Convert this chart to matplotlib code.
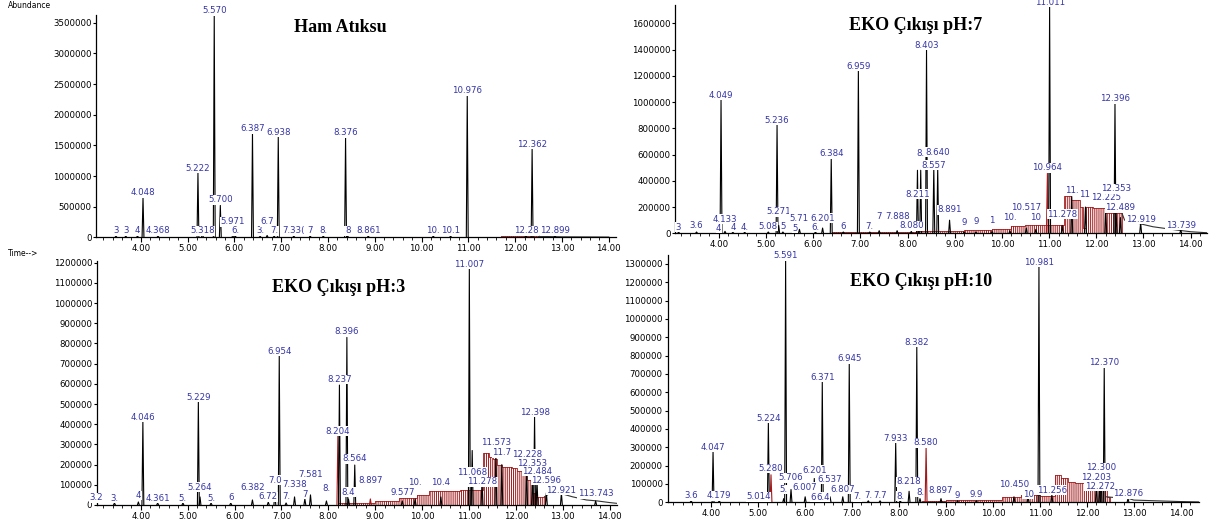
import matplotlib
matplotlib.use("Agg")
import matplotlib.pyplot as plt
from matplotlib.ticker import MultipleLocator, FixedLocator, FuncFormatter

RED = "#A3191B"
BLUE = "#3434A8"

# ---------------- Panel 1: Ham Atıksu ----------------
ham_rt = [3.47, 3.68, 3.93, 4.048, 4.368, 5.222, 5.318, 5.570, 5.700, 5.971, 6.02, 6.387,
          6.55, 6.70, 6.85, 6.938, 7.27, 7.62, 7.90, 8.376, 8.42, 8.861, 10.25, 10.62,
          10.976, 12.23, 12.362, 12.85]
ham_h = [20000, 20000, 20000, 650000, 20000, 1050000, 60000, 3620000, 520000, 60000, 20000, 1700000,
         15000, 30000, 20000, 1640000, 20000, 20000, 20000, 1630000, 20000, 20000, 20000, 20000,
         2320000, 40000, 1440000, 20000]
ham_lab = ["3", "3", "4", "4.048", "4.368", "5.222", "5.318", "5.570", "5.700", "5.971", "6.", "6.387",
           "3.", "6.7", "7.", "6.938", "7.33(", "7", "8.", "8.376", "8", "8.861", "10.", "10.1",
           "10.976", "12.28", "12.362", "12.899"]
ham_laby = [30000, 30000, 30000, 650000, 30000, 1050000, 35000, 3620000, 540000, 180000, 30000, 1700000,
            30000, 180000, 30000, 1640000, 30000, 30000, 30000, 1630000, 30000, 30000, 30000, 30000,
            2320000, 35000, 1440000, 30000]
ham_red = []
ham_hump_rt = [5.2, 9.0, 11.5, 11.7, 12.0, 12.5]
ham_hump_h = [6000, 8000, 10000, 20000, 25000, 0]
ham_tail_rt = [12.5, 13.0, 14.0]
ham_tail_h = [15000, 8000, 4000]
ham_yticks = [0, 500000, 1000000, 1500000, 2000000, 2500000, 3000000, 3500000]

# ---------------- Panel 2: EKO Çıkışı pH:7 ----------------
p7_rt = [3.15, 3.53, 4.00, 4.049, 4.133, 4.30, 4.55, 5.05, 5.236, 5.271, 5.36, 5.62, 5.71,
         6.05, 6.201, 6.384, 6.64, 6.959, 7.20, 7.40, 7.78, 8.08, 8.211, 8.28, 8.403, 8.557,
         8.640, 8.891, 9.20, 9.45, 9.79, 10.17, 10.517, 10.72, 10.964, 11.011, 11.278, 11.48,
         11.77, 12.20, 12.42, 12.396, 12.51, 12.94, 13.79]
p7_h = [10000, 10000, 10000, 1015000, 15000, 8000, 8000, 10000, 825000, 60000, 10000, 10000, 30000,
        10000, 40000, 571000, 10000, 1240000, 10000, 20000, 20000, 15000, 480000, 480000, 1396000, 495000,
        495000, 100000, 10000, 10000, 15000, 20000, 40000, 30000, 457000, 1726000, 60000, 280000,
        200000, 190000, 150000, 990000, 120000, 80000, 25000]
p7_lab = ["3", "3.6", "4", "4.049", "4.133", "4", "4.", "5.08", "5.236", "5.271", "5", "5", "5.71",
          "6.", "6.201", "6.384", "6", "6.959", "7.", "7", "7.888", "8.080", "8.211", "8.", "8.403", "8.557",
          "8.640", "8.891", "9", "9", "1", "10.", "10.517", "10", "10.964", "11.011", "11.278", "11.",
          "11.", "12.225", "12.353", "12.396", "12.489", "12.919", "13.739"]
p7_laby = [12000, 28000, 5000, 1015000, 72000, 10000, 10000, 18000, 825000, 130000, 18000, 5000, 80000,
           12000, 82000, 571000, 20000, 1240000, 18000, 97000, 95000, 22000, 262000, 575000, 1396000, 485000,
           585000, 145000, 45000, 55000, 60000, 84000, 160000, 84000, 465000, 1726000, 110000, 290000,
           265000, 235000, 305000, 990000, 160000, 72000, 28000]
p7_red = [10.964]
p7_hump_rt = [6.40, 8.20, 9.20, 9.80, 10.20, 10.50, 11.00, 11.32, 11.47, 11.65, 11.72, 11.79, 11.93, 12.18, 12.54]
p7_hump_h = [8000, 15000, 22000, 35000, 55000, 65000, 60000, 284000, 254000, 200000, 40000, 203000, 190000, 157000, 0]
p7_tail_rt = [12.54, 12.60, 12.90, 13.20, 13.70, 14.00, 14.35]
p7_tail_h = [157000, 100000, 75000, 50000, 25000, 12000, 4000]
p7_yticks = [0, 200000, 400000, 600000, 800000, 1000000, 1200000, 1400000, 1600000]

# ---------------- Panel 3: EKO Çıkışı pH:3 ----------------
p3_rt = [3.06, 3.44, 3.95, 4.046, 4.361, 4.90, 5.229, 5.264, 5.50, 5.92, 6.382, 6.72, 6.86, 6.954,
         7.10, 7.28, 7.50, 7.62, 7.96, 8.204, 8.237, 8.396, 8.43, 8.564, 8.897, 9.577, 9.85, 10.40,
         11.007, 11.068, 11.278, 11.573, 11.70, 12.228, 12.353, 12.398, 12.45, 12.65, 12.97, 13.70]
p3_h = [10000, 10000, 15000, 412000, 10000, 10000, 511000, 40000, 10000, 10000, 25000, 15000, 60000, 738000,
        10000, 40000, 30000, 50000, 20000, 341000, 594000, 830000, 30000, 198000, 30000, 20000, 30000, 40000,
        1170000, 270000, 120000, 260000, 200000, 190000, 150000, 437000, 120000, 60000, 60000, 20000]
p3_lab = ["3.2", "3.", "4", "4.046", "4.361", "5.", "5.229", "5.264", "5.", "6", "6.382", "6.72", "7.0", "6.954",
          "7.", "7.338", "7", "7.581", "8.", "8.204", "8.237", "8.396", "8.4", "8.564", "8.897", "9.577", "10.", "10.4",
          "11.007", "11.068", "11.278", "11.573", "11.7", "12.228", "12.353", "12.398", "12.484", "12.596", "12.921",
          "113.743"]
p3_laby = [13000, 10000, 25000, 412000, 12000, 10000, 511000, 66000, 12000, 13000, 66000, 18000, 100000, 738000,
           18000, 80000, 30000, 127000, 58000, 343000, 599000, 838000, 40000, 206000, 100000, 41000, 87000, 87000,
           1170000, 140000, 92000, 288000, 236000, 230000, 185000, 437000, 145000, 100000, 52000, 33000]
p3_red = [8.204, 8.897]
p3_hump_rt = [8.20, 9.00, 9.50, 9.90, 10.15, 10.80, 11.29, 11.43, 11.51, 11.60, 11.70, 11.91, 12.03, 12.13,
              12.24, 12.34, 12.41, 12.61]
p3_hump_h = [10000, 20000, 33000, 50000, 71000, 74000, 256000, 236000, 226000, 198000, 187000, 182000, 170000,
             149000, 124000, 58000, 41000, 0]
p3_tail_rt = [12.61, 12.75, 12.90, 13.20, 13.50, 13.74, 14.00, 14.16]
p3_tail_h = [41000, 61000, 61000, 41000, 25000, 20000, 12000, 8000]
p3_yticks = [0, 100000, 200000, 300000, 400000, 500000, 600000, 700000, 800000, 900000, 1000000, 1100000, 1200000]

# ---------------- Panel 4: EKO Çıkışı pH:10 ----------------
p10_rt = [3.58, 4.047, 4.179, 5.014, 5.224, 5.280, 5.55, 5.591, 5.706, 6.007, 6.17, 6.201, 6.371, 6.39,
          6.537, 6.807, 7.12, 6.945, 7.35, 7.60, 7.933, 8.03, 8.218, 8.382, 8.45, 8.580, 8.897, 9.25,
          9.65, 10.45, 10.75, 10.981, 11.256, 12.203, 12.272, 12.300, 12.370, 12.876]
p10_h = [8000, 276000, 8000, 8000, 434000, 150000, 20000, 1320000, 70000, 30000, 8000, 130000, 658000, 8000,
         30000, 30000, 8000, 758000, 8000, 8000, 325000, 8000, 60000, 849000, 20000, 300000, 20000, 8000,
         8000, 30000, 30000, 1285000, 40000, 100000, 80000, 180000, 736000, 20000]
p10_lab = ["3.6", "4.047", "4.179", "5.014", "5.224", "5.280", "5.", "5.591", "5.706", "6.007", "6", "6.201",
           "6.371", "6.4", "6.537", "6.807", "7.", "6.945", "7.", "7.7", "7.933", "8.", "8.218", "8.382", "8.",
           "8.580", "8.897", "9", "9.9", "10.450", "10", "10.981", "11.256", "12.203", "12.272", "12.300",
           "12.370", "12.876"]
p10_laby = [10000, 276000, 10000, 5000, 434000, 160000, 45000, 1320000, 108000, 57000, 3000, 150000, 658000,
            3000, 100000, 45000, 5000, 758000, 15000, 15000, 325000, 8000, 87000, 849000, 30000, 300000, 42000,
            15000, 18000, 70000, 20000, 1285000, 42000, 113000, 62000, 165000, 736000, 23000]
p10_red = [5.280, 8.580]
p10_hump_rt = [8.50, 9.00, 9.60, 10.20, 10.60, 11.00, 11.32, 11.45, 11.60, 11.75, 12.00, 12.25, 12.42, 12.50]
p10_hump_h = [5000, 10000, 15000, 30000, 40000, 35000, 150000, 130000, 110000, 105000, 95000, 85000, 30000, 0]
p10_tail_rt = [12.42, 12.50, 12.90, 13.00, 13.50, 14.00, 14.38]
p10_tail_h = [30000, 28000, 20000, 12000, 8000, 4000, 2000]
p10_yticks = [0, 100000, 200000, 300000, 400000, 500000, 600000, 700000, 800000, 900000, 1000000,
              1100000, 1200000, 1300000]

xticks = [4, 5, 6, 7, 8, 9, 10, 11, 12, 13, 14]

# ---------------- figure ----------------
W, H = 1217, 523
plt.rcParams["font.family"] = ["DejaVu Sans"]
plt.rcParams["hatch.linewidth"] = 0.7
plt.rcParams["hatch.color"] = RED
fig = plt.figure(figsize=(W / 100, H / 100), dpi=100)


def panel(left, right, y0, ytop, xlim, ylim, yticks, rt, h, lab, laby, red,
          hump_rt, hump_h, tail_rt, tail_h):
    ax = fig.add_axes([left / W, 1 - y0 / H, (right - left) / W, (y0 - ytop) / H])
    ax.set_xlim(*xlim)
    ax.set_ylim(*ylim)
    ax.fill_between(hump_rt, 0, hump_h, step="post", facecolor="none", edgecolor=RED,
                    hatch="||||||||", linewidth=0, zorder=1)
    ax.step(hump_rt, hump_h, where="post", color=RED, lw=0.6, zorder=1.5)
    ax.plot(tail_rt, tail_h, color="#333333", lw=0.8, zorder=2)
    w = 0.02
    for r, hh, t, ly in zip(rt, h, lab, laby):
        c = RED if r in red else "black"
        ax.plot([r - w, r, r + w], [0, hh, 0], color=c, lw=0.8, zorder=3)
        ax.text(r, ly, t, ha="center", va="bottom", fontsize=6.2, color=BLUE, zorder=5,
                bbox=dict(boxstyle="square,pad=0.05", fc="white", ec="none"))
    for s in ("top", "right"):
        ax.spines[s].set_visible(False)
    for s in ("left", "bottom"):
        ax.spines[s].set_linewidth(0.9)
    ax.xaxis.set_major_locator(FixedLocator(xticks))
    ax.xaxis.set_major_formatter(FuncFormatter(lambda v, p: f"{v:.2f}"))
    ax.xaxis.set_minor_locator(MultipleLocator(0.2))
    ax.yaxis.set_major_locator(FixedLocator(yticks))
    ax.yaxis.set_major_formatter(FuncFormatter(lambda v, p: f"{int(v)}"))
    ax.tick_params(axis="x", which="major", direction="out", length=3.5, width=0.8, labelsize=6.2, pad=1.5)
    ax.tick_params(axis="x", which="minor", direction="out", length=2, width=0.6)
    ax.tick_params(axis="y", which="major", direction="out", length=2, width=0.8, labelsize=6.2, pad=1.5)
    ax.set_facecolor("none")
    return ax


panel(96.3, 615.8, 237.3, 15.4, (3.05, 14.15), (0, 3620000), ham_yticks, ham_rt, ham_h, ham_lab, ham_laby,
      ham_red, ham_hump_rt, ham_hump_h, ham_tail_rt, ham_tail_h)
panel(675.3, 1207.2, 233.3, 4.9, (3.08, 14.35), (0, 1740000), p7_yticks, p7_rt, p7_h, p7_lab, p7_laby,
      p7_red, p7_hump_rt, p7_hump_h, p7_tail_rt, p7_tail_h)
panel(97.1, 617.2, 505.0, 260.7, (3.07, 14.16), (0, 1210000), p3_yticks, p3_rt, p3_h, p3_lab, p3_laby,
      p3_red, p3_hump_rt, p3_hump_h, p3_tail_rt, p3_tail_h)
panel(667.6, 1198.7, 502.3, 254.8, (3.08, 14.38), (0, 1350000), p10_yticks, p10_rt, p10_h, p10_lab, p10_laby,
      p10_red, p10_hump_rt, p10_hump_h, p10_tail_rt, p10_tail_h)

titles = ["Ham Atıksu", "EKO Çıkışı pH:7", "EKO Çıkışı pH:3", "EKO Çıkışı pH:10"]
title_xy = [(340, 28), (916, 25), (339, 287), (921, 282)]
for t, (x, y) in zip(titles, title_xy):
    fig.text(x / W, 1 - y / H, t, ha="center", va="center", fontsize=13, fontweight="bold",
             family=["Liberation Serif"])

fig.text(8 / W, 1 - 5 / H, "Abundance", ha="left", va="center", fontsize=5.5)
fig.text(8 / W, 1 - 254 / H, "Time-->", ha="left", va="center", fontsize=5.5)

fig.savefig("out.png", dpi=100)
